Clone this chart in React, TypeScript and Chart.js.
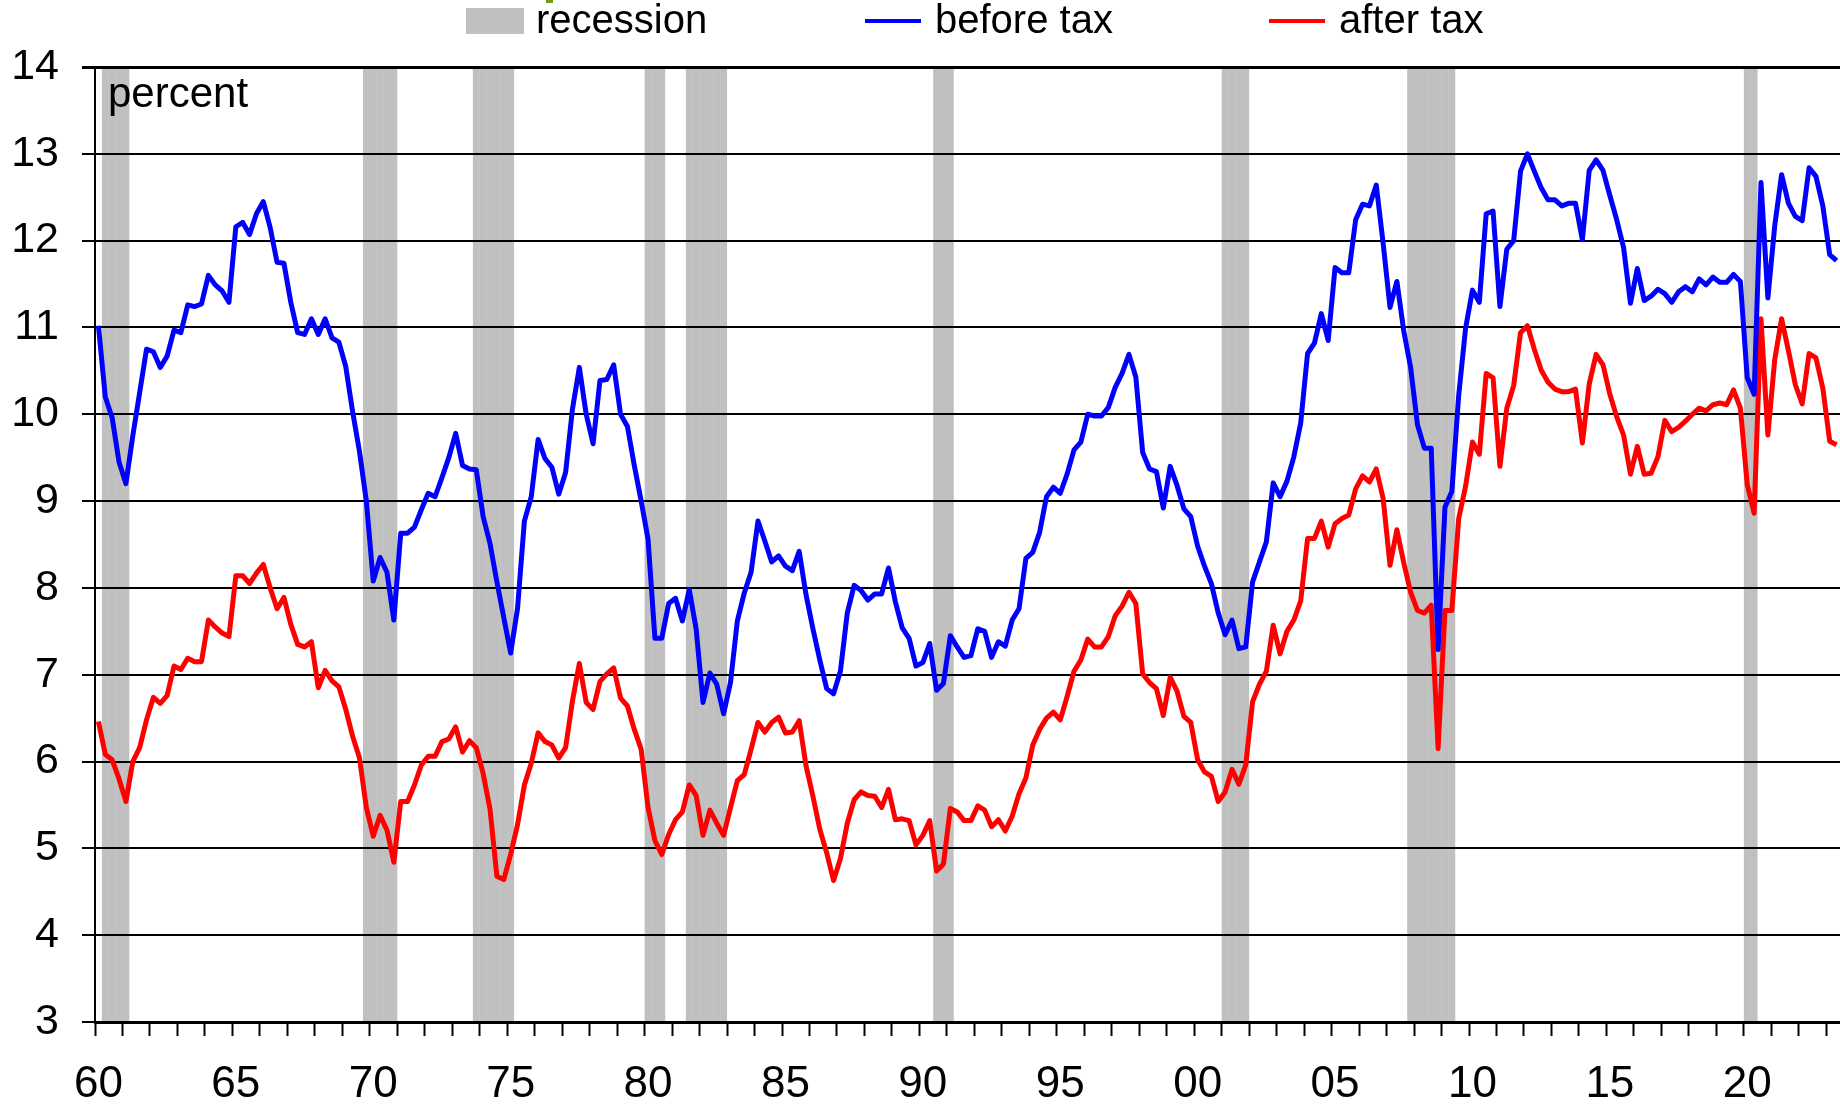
import React, { useEffect, useRef } from "react";
import { Chart, registerables } from "chart.js";

Chart.register(...registerables);

const FONT = '"Liberation Sans", Arial, sans-serif';

const FIRST_YEAR = 1960;
const Y_MIN = 3;
const Y_MAX = 14;
const Y_UNIT = "percent";
const LABEL_EVERY_YEARS = 5;

// Quarterly values, 1960Q1 .. 2023Q2 (4 per year)
const beforeTax: number[] = [
  11.02, 10.2, 9.96, 9.45, 9.2, 9.75, 10.25, 10.75,
  10.72, 10.54, 10.67, 10.97, 10.94, 11.26, 11.24, 11.27,
  11.6, 11.49, 11.42, 11.29, 12.16, 12.21, 12.07, 12.31,
  12.45, 12.15, 11.75, 11.74, 11.29, 10.94, 10.92, 11.1,
  10.92, 11.1, 10.88, 10.83, 10.55, 10.03, 9.57, 9.0,
  8.08, 8.35, 8.18, 7.63, 8.63, 8.63, 8.7, 8.9,
  9.09, 9.05, 9.27, 9.5, 9.78, 9.41, 9.37, 9.36,
  8.82, 8.51, 8.07, 7.66, 7.25, 7.76, 8.77, 9.05,
  9.71, 9.49, 9.39, 9.08, 9.33, 10.06, 10.54, 10.0,
  9.66, 10.39, 10.4, 10.57, 10.0, 9.86, 9.41, 9.0,
  8.56, 7.42, 7.42, 7.82, 7.88, 7.62, 7.98, 7.53,
  6.68, 7.02, 6.89, 6.55, 6.91, 7.62, 7.94, 8.18,
  8.77, 8.54, 8.3, 8.37, 8.25, 8.2, 8.42, 7.92,
  7.53, 7.17, 6.84, 6.78, 7.04, 7.71, 8.03, 7.97,
  7.86, 7.93, 7.93, 8.23, 7.84, 7.54, 7.42, 7.1,
  7.14, 7.36, 6.82, 6.9, 7.45, 7.32, 7.2, 7.22,
  7.53, 7.5, 7.2, 7.38, 7.33, 7.63, 7.76, 8.34,
  8.41, 8.64, 9.05, 9.16, 9.09, 9.31, 9.59, 9.68,
  10.0, 9.98, 9.98, 10.08, 10.31, 10.47, 10.69, 10.43,
  9.56, 9.37, 9.34, 8.92, 9.4, 9.18, 8.91, 8.82,
  8.48, 8.25, 8.05, 7.71, 7.46, 7.63, 7.3, 7.32,
  8.07, 8.3, 8.53, 9.21, 9.05, 9.23, 9.51, 9.9,
  10.7, 10.82, 11.16, 10.85, 11.69, 11.63, 11.63, 12.24,
  12.42, 12.4, 12.64, 11.97, 11.23, 11.53, 10.96, 10.54,
  9.88, 9.61, 9.61, 7.29, 8.93, 9.11, 10.22, 10.99,
  11.43, 11.29, 12.31, 12.34, 11.24, 11.9, 12.0, 12.8,
  13.0, 12.8, 12.61, 12.47, 12.47, 12.4, 12.43, 12.43,
  12.01, 12.81, 12.93, 12.81, 12.52, 12.24, 11.92, 11.28,
  11.68, 11.31, 11.36, 11.44, 11.39, 11.29, 11.41, 11.47,
  11.41, 11.56, 11.49, 11.58, 11.52, 11.52, 11.61, 11.53,
  10.42, 10.23, 12.67, 11.34, 12.17, 12.76, 12.43, 12.28,
  12.23, 12.84, 12.74, 12.4, 11.84, 11.77,
];

const afterTax: number[] = [
  6.46, 6.08, 6.02, 5.8, 5.54, 6.0, 6.16, 6.48,
  6.74, 6.67, 6.76, 7.1, 7.06, 7.19, 7.15, 7.15,
  7.63, 7.55, 7.48, 7.44, 8.14, 8.14, 8.05, 8.17,
  8.27, 8.0, 7.76, 7.89, 7.58, 7.35, 7.32, 7.38,
  6.85, 7.05, 6.93, 6.86, 6.6, 6.29, 6.04, 5.47,
  5.14, 5.38, 5.21, 4.84, 5.54, 5.54, 5.73, 5.96,
  6.06, 6.06, 6.23, 6.26, 6.4, 6.11, 6.24, 6.16,
  5.86, 5.45, 4.68, 4.64, 4.93, 5.27, 5.73, 5.98,
  6.33, 6.23, 6.19, 6.04, 6.16, 6.7, 7.13, 6.68,
  6.6, 6.92, 7.01, 7.08, 6.73, 6.64, 6.37, 6.14,
  5.47, 5.09, 4.93, 5.16, 5.33, 5.42, 5.73, 5.61,
  5.15, 5.44, 5.29, 5.15, 5.47, 5.78, 5.85, 6.14,
  6.45, 6.34, 6.45, 6.51, 6.33, 6.34, 6.47, 5.95,
  5.6, 5.22, 4.95, 4.63, 4.88, 5.29, 5.56, 5.65,
  5.61, 5.6, 5.47, 5.68, 5.33, 5.34, 5.32, 5.04,
  5.15, 5.32, 4.74, 4.82, 5.46, 5.42, 5.32, 5.32,
  5.49, 5.44, 5.25, 5.33, 5.2, 5.37, 5.63, 5.81,
  6.19, 6.37, 6.5, 6.57, 6.48, 6.75, 7.04, 7.17,
  7.41, 7.32, 7.32, 7.44, 7.68, 7.79, 7.95, 7.82,
  7.01, 6.91, 6.84, 6.53, 6.97, 6.81, 6.52, 6.45,
  6.02, 5.88, 5.83, 5.54, 5.65, 5.91, 5.74, 5.96,
  6.69, 6.89, 7.04, 7.57, 7.24, 7.5, 7.63, 7.85,
  8.57, 8.57, 8.77, 8.47, 8.74, 8.8, 8.84, 9.14,
  9.29, 9.22, 9.37, 9.03, 8.26, 8.67, 8.29, 7.95,
  7.74, 7.71, 7.8, 6.15, 7.74, 7.74, 8.8, 9.17,
  9.68, 9.54, 10.47, 10.42, 9.4, 10.07, 10.33, 10.94,
  11.02, 10.75, 10.51, 10.37, 10.29, 10.26, 10.26, 10.29,
  9.67, 10.35, 10.69, 10.57, 10.23, 9.97, 9.76, 9.31,
  9.63, 9.31, 9.32, 9.51, 9.93, 9.8, 9.85, 9.92,
  10.0, 10.07, 10.04, 10.11, 10.13, 10.11, 10.28, 10.07,
  9.19, 8.86, 11.1, 9.76, 10.63, 11.1, 10.73, 10.34,
  10.12, 10.7, 10.65, 10.3, 9.69, 9.65,
];

// NBER recessions (first and last quarter)
const recessionStarts: string[] = ["1960Q2", "1969Q4", "1973Q4", "1980Q1", "1981Q3", "1990Q3", "2001Q1", "2007Q4", "2020Q1"];
const recessionEnds: string[] = ["1961Q1", "1970Q4", "1975Q1", "1980Q3", "1982Q4", "1991Q1", "2001Q4", "2009Q2", "2020Q2"];

const quarters: string[] = beforeTax.map(
  (_, i) => `${FIRST_YEAR + Math.floor(i / 4)}Q${(i % 4) + 1}`
);

const recessionData = quarters.map((q) =>
  recessionStarts.some((s, j) => q >= s && q <= recessionEnds[j]) ? [Y_MIN, Y_MAX] : null
);

const overlayPlugin = {
  id: "overlay",
  afterDraw(chart: any) {
    const ctx = chart.ctx as CanvasRenderingContext2D;
    const area = chart.chartArea;
    ctx.save();
    // unit label inside plot
    ctx.fillStyle = "#000";
    ctx.font = `42px ${FONT}`;
    ctx.textBaseline = "alphabetic";
    ctx.textAlign = "left";
    ctx.fillText(Y_UNIT, area.left + 13, 107);

    // legend
    const ds = chart.data.datasets;
    const xs = [466, 865, 1269];
    ctx.font = `40px ${FONT}`;
    ds.forEach((d: any, i: number) => {
      const x = xs[i];
      if (d.type === "bar") {
        ctx.fillStyle = "#C0C0C0";
        ctx.fillRect(x, 8, 58, 26);
      } else {
        ctx.strokeStyle = d.borderColor;
        ctx.lineWidth = 4;
        ctx.beginPath();
        ctx.moveTo(x, 21);
        ctx.lineTo(x + 56, 21);
        ctx.stroke();
      }
      ctx.fillStyle = "#000";
      ctx.fillText(d.label, x + 70, 33);
    });
    // small cut-off mark at the top edge
    ctx.fillStyle = "#6E9B1E";
    ctx.fillRect(546, 0, 7, 3);
    ctx.restore();
  },
};

export default function App() {
  const ref = useRef<HTMLCanvasElement | null>(null);

  useEffect(() => {
    if (!ref.current) return;
    const chart = new Chart(ref.current, {
      type: "bar",
      data: {
        labels: quarters,
        datasets: [
          {
            type: "bar",
            label: "recession",
            data: recessionData as any,
            backgroundColor: "rgba(0,0,0,0.247)",
            borderWidth: 0,
            barPercentage: 1,
            categoryPercentage: 1,
            inflateAmount: 0,
            order: 3,
          } as any,
          {
            type: "line",
            label: "before tax",
            data: beforeTax,
            borderColor: "#0000FF",
            backgroundColor: "#0000FF",
            borderWidth: 5,
            pointRadius: 0,
            tension: 0,
            borderJoinStyle: "round",
            order: 1,
          } as any,
          {
            type: "line",
            label: "after tax",
            data: afterTax,
            borderColor: "#FF0000",
            backgroundColor: "#FF0000",
            borderWidth: 5,
            pointRadius: 0,
            tension: 0,
            borderJoinStyle: "round",
            order: 2,
          } as any,
        ],
      },
      options: {
        responsive: false,
        animation: false,
        devicePixelRatio: 1,
        layout: { padding: { top: 67, right: 0, bottom: 0, left: 0 } },
        plugins: {
          legend: { display: false },
          tooltip: { enabled: false },
        },
        scales: {
          x: {
            type: "category",
            offset: true,
            grid: {
              offset: true,
              drawOnChartArea: false,
              drawTicks: true,
              tickLength: 14,
              tickWidth: 2,
              tickColor: (c: any) => (c.index % 4 === 0 ? "#000" : "rgba(0,0,0,0)"),
            },
            border: { display: true, color: "#000", width: 3 },
            ticks: {
              autoSkip: false,
              maxRotation: 0,
              minRotation: 0,
              padding: 22,
              color: "#000",
              font: { family: FONT, size: 44 },
              callback: function (this: any, _v: any, index: number) {
                return index % (LABEL_EVERY_YEARS * 4) === 0
                  ? String(quarters[index]).slice(2, 4)
                  : "";
              },
            },
            afterFit: (s: any) => {
              s.height = 84;
              s.paddingLeft = 0;
              s.paddingRight = 0;
            },
          },
          y: {
            min: Y_MIN,
            max: Y_MAX,
            grid: {
              color: "#000",
              lineWidth: (c: any) => (c.tick && c.tick.value === Y_MAX ? 3 : 2),
              tickLength: 13,
              drawTicks: true,
            },
            border: { display: true, color: "#000", width: 2 },
            ticks: {
              stepSize: 1,
              padding: 23,
              color: "#000",
              font: { family: FONT, size: 43 },
            },
            afterFit: (s: any) => {
              s.width = 95;
            },
          },
        },
      },
      plugins: [overlayPlugin],
    });
    return () => chart.destroy();
  }, []);

  return (
    <div style={{ position: "absolute", left: 0, top: 0, width: 1840, height: 1106, background: "#fff" }}>
      <canvas ref={ref} width={1840} height={1106} style={{ display: "block" }} />
    </div>
  );
}
